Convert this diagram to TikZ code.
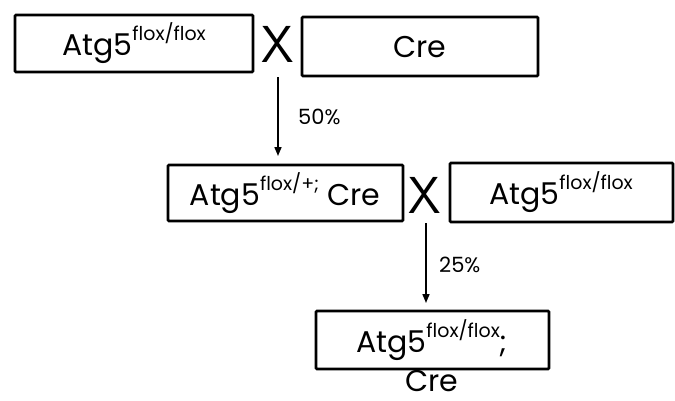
\documentclass[tikz,border=0pt]{standalone}
\usepackage{fontspec}
\setmainfont{Poppins}
\usetikzlibrary{arrows.meta}
\tikzset{
  x=1pt, y=-1pt,
  gbox/.style={draw=black, line width=2.6pt, rounded corners=1pt, inner sep=0pt, anchor=north west},
  gtext/.style={font=\fontsize{30}{33}\selectfont, inner sep=0pt},
  cross/.style={font=\sffamily\fontsize{52}{52}\selectfont, inner sep=0pt},
  pct/.style={font=\fontsize{21}{24}\selectfont, inner sep=0pt, anchor=west},
  arr/.style={line width=1.6pt, -{Triangle[length=9pt,width=7pt]}}
}
\newcommand{\sups}[1]{\raisebox{0.5em}{\fontsize{19}{21}\selectfont #1}}
\begin{document}
\begin{tikzpicture}
\useasboundingbox (0,0) rectangle (675,400);
% boxes
\draw[gbox] (15,15) rectangle (253,72);
\node[gtext] (ta) at (134,43) {Atg5\sups{flox/flox}};
\draw[gbox] (302,17) rectangle (538,76);
\node[gtext] (tb) at (420,47) {Cre};
\node[cross] (x1) at (278,44) {X};
\draw[gbox] (168,165) rectangle (403,221);
\node[gtext] (tc) at (285,193) {Atg5\sups{flox/+;} Cre};
\node[cross] (x2) at (425,195) {X};
\draw[gbox] (450,163) rectangle (673,222);
\node[gtext] (td) at (561,192) {Atg5\sups{flox/flox}};
\draw[gbox] (316,311) rectangle (549,369);
\node[gtext] (te) at (432,340) {Atg5\sups{flox/flox};};
\node[gtext] (tf) at (432,381) {Cre};
% arrows
\coordinate (a1s) at (278,77);
\coordinate (a1e) at (278,156);
\coordinate (a2s) at (426,223);
\coordinate (a2e) at (426,303);
\draw[arr] (a1s) -- (a1e);
\draw[arr] (a2s) -- (a2e);
\node[pct] (p1) at (298,117) {50\%};
\node[pct] (p2) at (439,265) {25\%};
\end{tikzpicture}
\end{document}
